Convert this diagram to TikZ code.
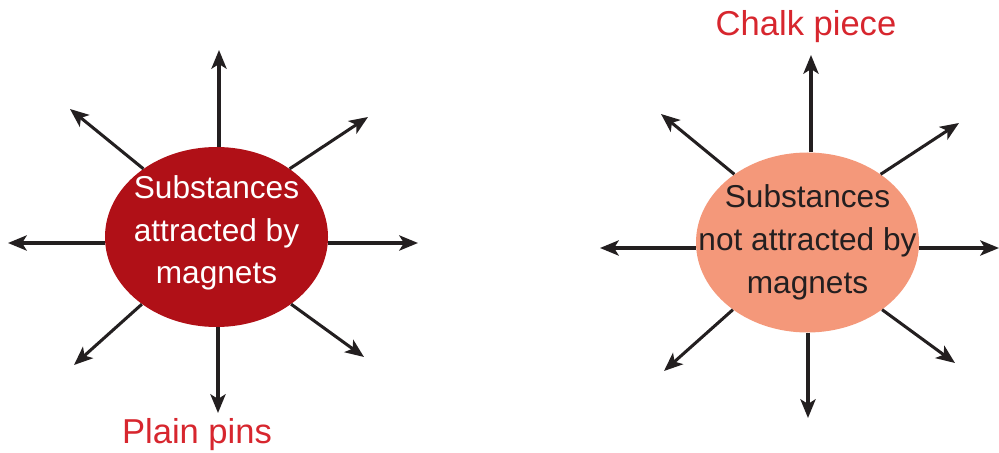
\documentclass[tikz,border=0pt]{standalone}
\usepackage{fontspec}
\setmainfont{Liberation Sans}
\usetikzlibrary{shapes.geometric,arrows.meta}
\definecolor{darkred}{HTML}{B01017}
\definecolor{salmon}{HTML}{F4987A}
\definecolor{labelred}{HTML}{D7262E}
\definecolor{ink}{HTML}{231F20}
\begin{document}
\begin{tikzpicture}[x=0.03cm,y=-0.03cm,
  blob/.style={ellipse,minimum width=6.69cm,minimum height=5.4cm,inner sep=0pt},
  blobtext/.style={align=center,inner sep=0pt,font=\fontsize{27}{36.5}\selectfont},
  ray/.style={draw=ink,line width=2.6pt,-{Stealth[length=16pt,width=13pt,inset=4pt]}},
  lbl/.style={text=labelred,font=\fontsize{29.5}{34}\selectfont,inner sep=0pt}]
\useasboundingbox (0,0) rectangle (999,453);
% left
\node[blob,fill=darkred] (L) at (216.5,237) {};
\node[blobtext,text=white] (Lt) at (216.5,233) {Substances\\attracted by\\magnets};
\coordinate (l1) at (219,50);
\coordinate (l2) at (218,413);
\coordinate (l3) at (8,243);
\coordinate (l4) at (418,243);
\coordinate (l5) at (70,109);
\coordinate (l6) at (368,117);
\coordinate (l7) at (74,365);
\coordinate (l8) at (364,357);
\draw[ray] (L.north -| l1) -- (l1);
\draw[ray] (L.south -| l2) -- (l2);
\draw[ray] (L.west |- l3) -- (l3);
\draw[ray] (L.east |- l4) -- (l4);
\draw[ray] (L.137) -- (l5);
\draw[ray] (L.43) -- (l6);
\draw[ray] (L.222) -- (l7);
\draw[ray] (L.318) -- (l8);
\node[lbl] (pins) at (197,435) {Plain pins};
% right
\node[blob,fill=salmon] (R) at (807.5,242.5) {};
\node[blobtext,text=ink] (Rt) at (807.5,242.5) {Substances\\not attracted by\\magnets};
\coordinate (r1) at (811,55);
\coordinate (r2) at (808,418);
\coordinate (r3) at (600,248);
\coordinate (r4) at (999,248);
\coordinate (r5) at (661,114);
\coordinate (r6) at (959,123);
\coordinate (r7) at (664,371);
\coordinate (r8) at (955,363);
\draw[ray] (R.north -| r1) -- (r1);
\draw[ray] (R.south -| r2) -- (r2);
\draw[ray] (R.west |- r3) -- (r3);
\draw[ray] (R.east |- r4) -- (r4);
\draw[ray] (R.137) -- (r5);
\draw[ray] (R.43) -- (r6);
\draw[ray] (R.222) -- (r7);
\draw[ray] (R.318) -- (r8);
\node[lbl] (chalk) at (806,27) {Chalk piece};
\end{tikzpicture}
\end{document}
